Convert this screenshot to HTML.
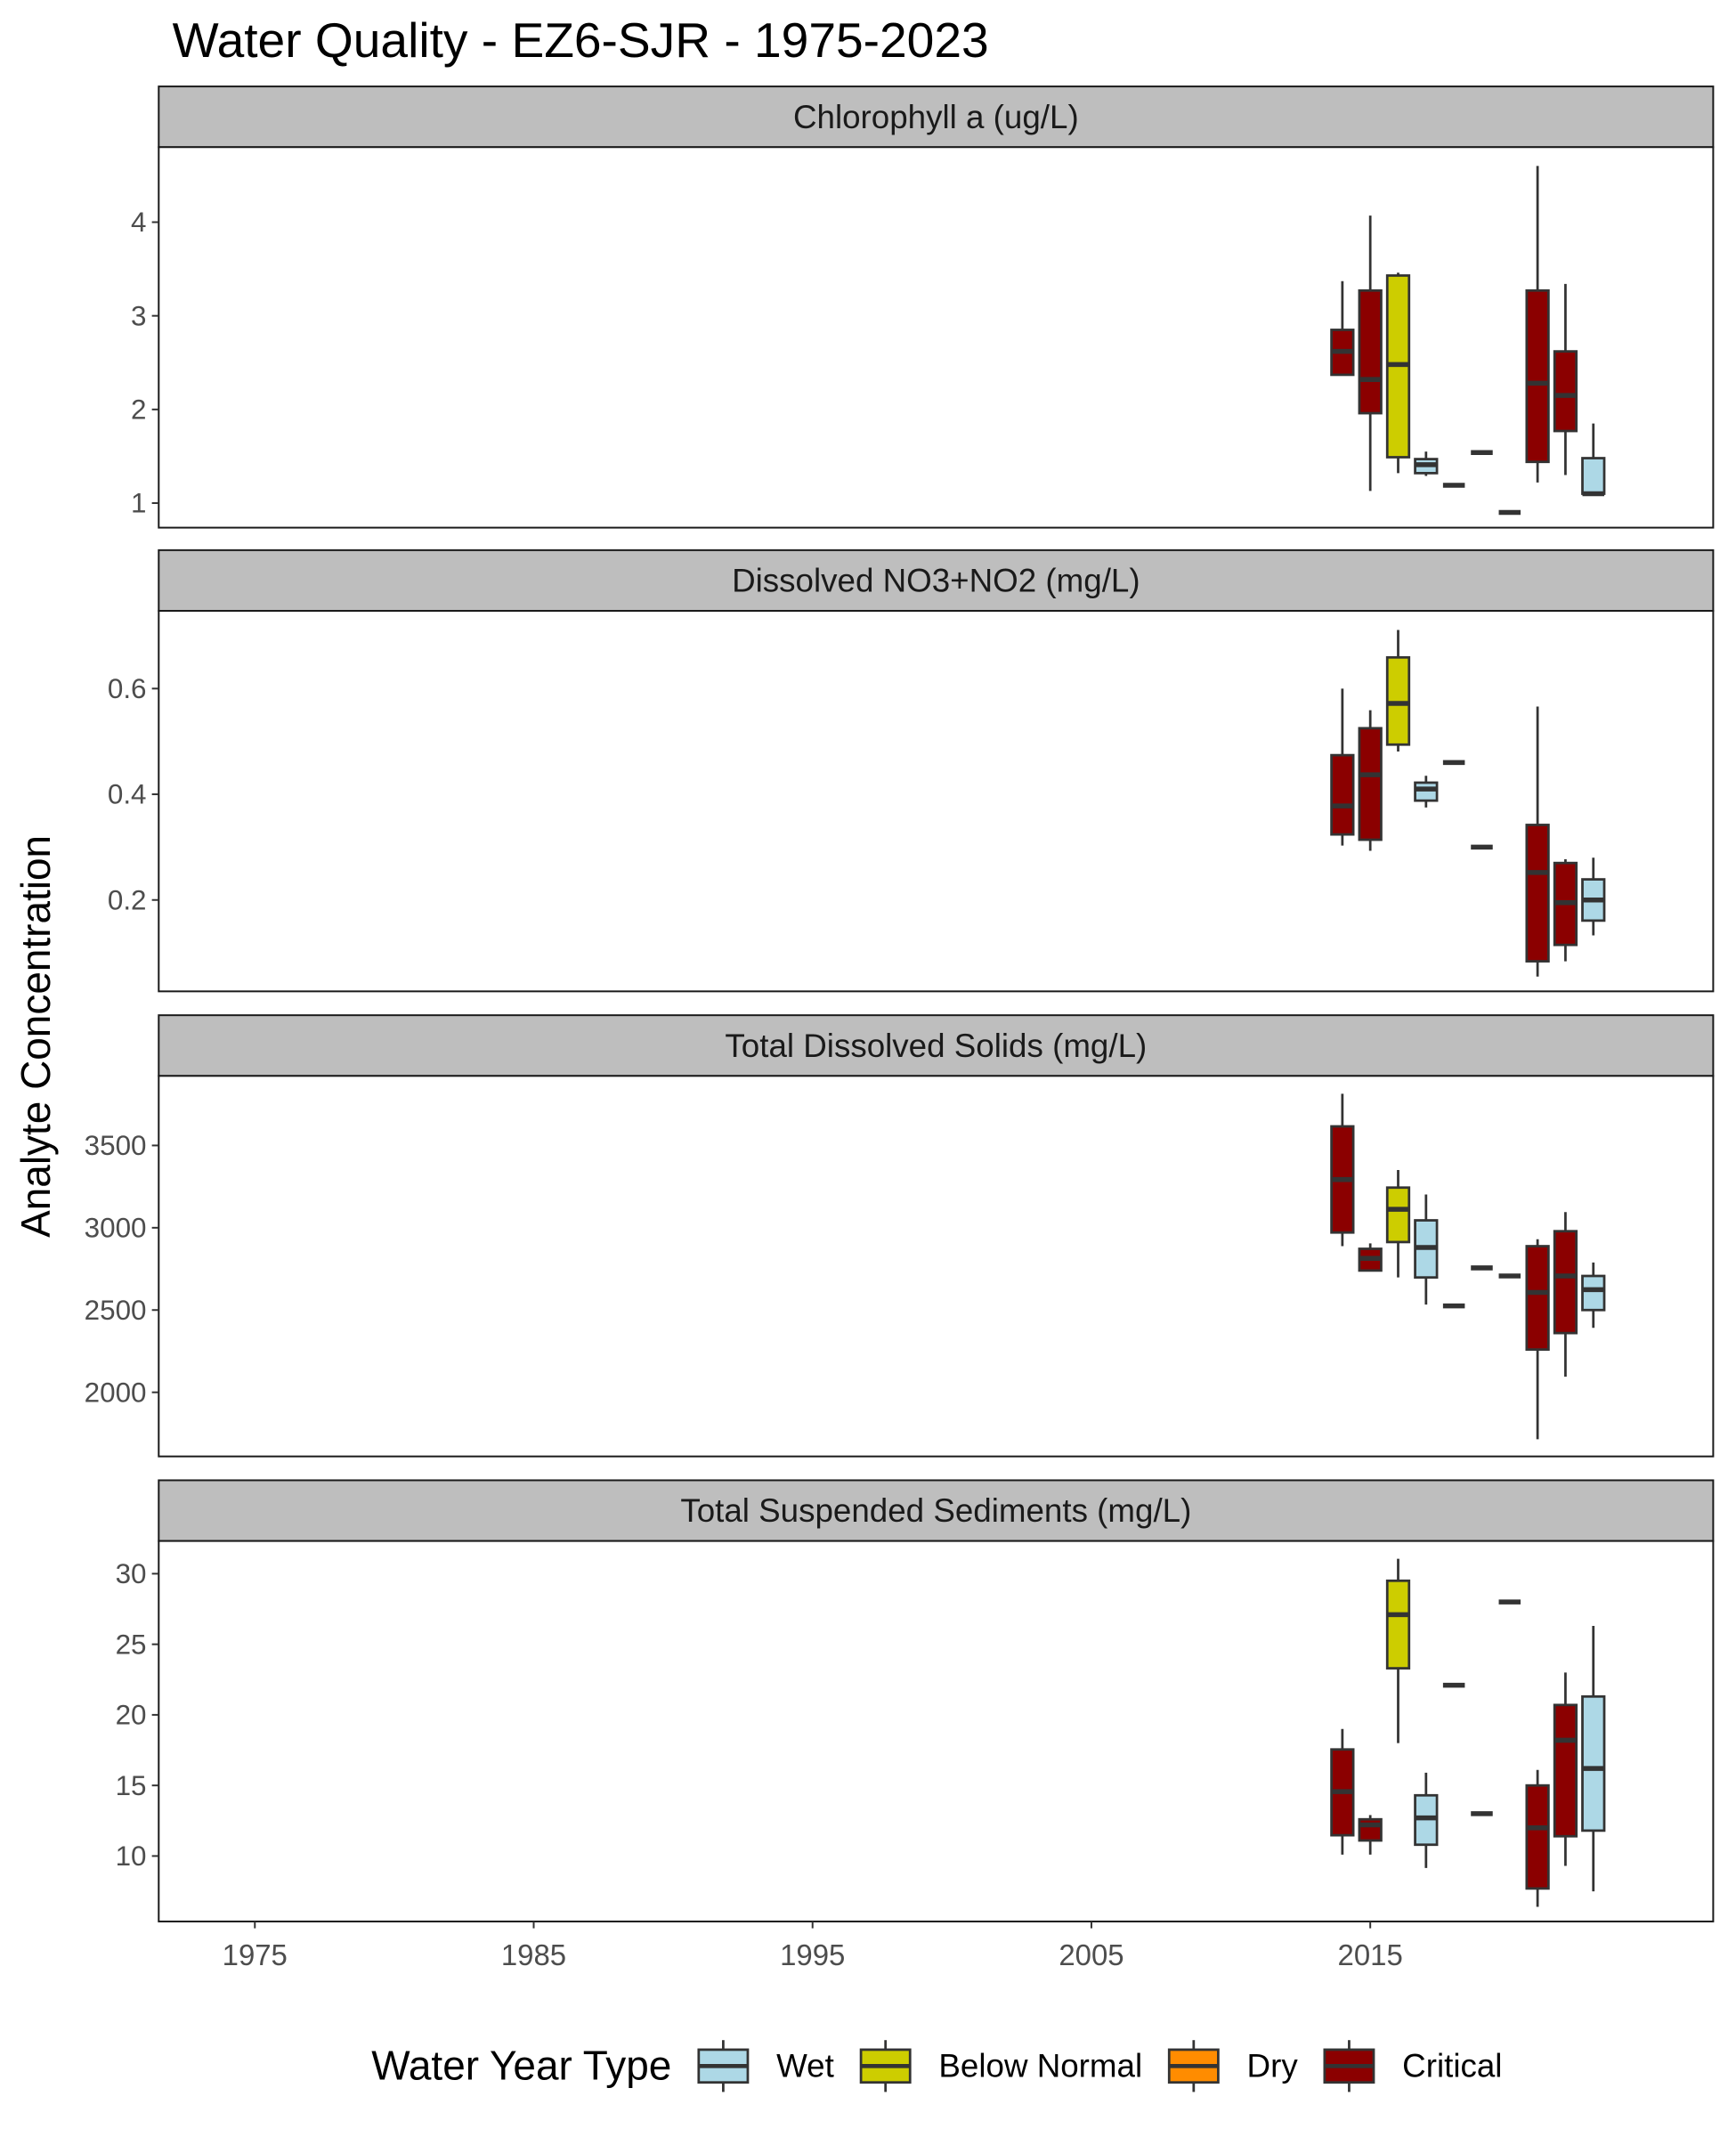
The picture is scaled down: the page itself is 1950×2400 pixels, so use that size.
<!DOCTYPE html>
<html><head><meta charset="utf-8"><style>
html,body{margin:0;padding:0;background:#fff;}
svg{display:block;font-family:"Liberation Sans",Arial,sans-serif;}
</style></head><body>
<svg width="1950" height="2400" viewBox="0 0 1280 1575" xmlns="http://www.w3.org/2000/svg"><g id="chart" transform="translate(-0.6,-0.3) scale(1.0054)"></g></svg>
<script>
const years = [2014,2015,2016,2017,2018,2019,2020,2021,2022,2023];
const yearTypes = ["Critical","Critical","Below Normal","Wet",null,null,null,"Critical","Critical","Wet"];
// [lo,q1,med,q3,hi]
const chlStats = [[2.37,2.37,2.62,2.85,3.37],[1.13,1.96,2.32,3.27,4.07],[1.32,1.49,2.48,3.43,3.46],[1.29,1.32,1.41,1.47,1.55],[1.19,1.19,1.19,1.19,1.19],[1.54,1.54,1.54,1.54,1.54],[0.9,0.9,0.9,0.9,0.9],[1.22,1.44,2.28,3.27,4.6],[1.3,1.77,2.15,2.62,3.34],[1.1,1.1,1.1,1.48,1.85]];
const no3Stats = [[0.303,0.324,0.378,0.474,0.6],[0.293,0.314,0.437,0.525,0.559],[0.481,0.494,0.572,0.659,0.711],[0.375,0.388,0.41,0.422,0.435],[0.46,0.46,0.46,0.46,0.46],[0.30,0.30,0.30,0.30,0.30],null,[0.055,0.084,0.252,0.342,0.566],[0.084,0.115,0.195,0.27,0.277],[0.133,0.161,0.2,0.239,0.28]];
const tdsStats = [[2888,2971,3293,3616,3814],[2740,2740,2814,2872,2905],[2698,2913,3112,3244,3351],[2533,2698,2880,3045,3202],[2525,2525,2525,2525,2525],[2756,2756,2756,2756,2756],[2707,2707,2707,2707,2707],[1715,2260,2607,2888,2930],[2095,2360,2707,2979,3095],[2392,2500,2624,2707,2789]];
const tssStats = [[10.1,11.47,14.56,17.55,19.0],[10.1,11.1,12.2,12.6,12.9],[18.0,23.3,27.1,29.5,31.06],[9.15,10.8,12.7,14.3,15.9],[22.1,22.1,22.1,22.1,22.1],[13.0,13.0,13.0,13.0,13.0],[28.0,28.0,28.0,28.0,28.0],[6.4,7.7,12.0,15.0,16.1],[9.3,11.4,18.2,20.7,23.0],[7.5,11.8,16.2,21.3,26.3]];
const chlTicks = [1,2,3,4];
const no3Ticks = [0.2,0.4,0.6];
const tdsTicks = [2000,2500,3000,3500];
const tssTicks = [10,15,20,25,30];
const xTicks = [1975,1985,1995,2005,2015];
const legendTypes = ["Wet","Below Normal","Dry","Critical"];

const colors = {"Wet":"#add8e6","Below Normal":"#cdcd00","Dry":"#ff8c00","Critical":"#8b0000"};
const NS="http://www.w3.org/2000/svg";
const svg=document.getElementById('chart');
function el(t,a,p){const e=document.createElementNS(NS,t);for(const k in a)e.setAttribute(k,a[k]);(p||svg).appendChild(e);return e;}
const X0=117,X1=1257;
function xs(yr){return 187.5+(yr-1975)*20.45;}

let t=el('text',{x:127,y:42,'font-size':36,fill:'#000'});t.textContent='Water Quality - EZ6-SJR - 1975-2023';


const panels=[
 {title:'Chlorophyll a (ug/L)',top:65,stats:chlStats,ticks:chlTicks,v0:1,p0:369,v1:4,p1:163,fmt:v=>String(v),name:'chlorophyll'},
 {title:'Dissolved NO3+NO2 (mg/L)',top:405,stats:no3Stats,ticks:no3Ticks,v0:0.2,p0:660,v1:0.6,p1:505,fmt:v=>v.toFixed(1),name:'nitrate'},
 {title:'Total Dissolved Solids (mg/L)',top:746,stats:tdsStats,ticks:tdsTicks,v0:2000,p0:1021,v1:3500,p1:840,fmt:v=>String(v),name:'tds'},
 {title:'Total Suspended Sediments (mg/L)',top:1087,stats:tssStats,ticks:tssTicks,v0:10,p0:1361,v1:30,p1:1154,fmt:v=>String(v),name:'tss'}
];
panels.forEach(P=>{
 const g=el('g',{});
 
 
 const ys=v=>P.p0+(v-P.v0)*(P.p1-P.p0)/(P.v1-P.v0);
 const s=el('rect',{x:X0,y:P.top-1.5,width:X1-X0,height:44.5,fill:'#bebebe',stroke:'#1a1a1a','stroke-width':1.3},g);
 
 const st=el('text',{x:(X0+X1)/2,y:P.top+29,'font-size':24,'text-anchor':'middle',fill:'#1a1a1a'},g);st.textContent=P.title;
 
 const pt=P.top+43, pb=pt+279;
 el('rect',{x:X0,y:pt,width:X1-X0,height:pb-pt,fill:'#fff',stroke:'#1a1a1a','stroke-width':1.3},g);
 P.ticks.forEach(v=>{const y=ys(v);
  el('line',{x1:X0-5,x2:X0,y1:y,y2:y,stroke:'#333','stroke-width':1.3},g);
  const tt=el('text',{x:X0-9,y:y+7,'font-size':20.5,'text-anchor':'end',fill:'#4d4d4d'},g);tt.textContent=P.fmt(v);
  
 });
 P.stats.forEach((d,i)=>{ if(!d)return;
  const cx=xs(years[i]),w=16,fill=colors[yearTypes[i]]||'#333';
  const b=el('g',{},g);
  
  el('line',{x1:cx,x2:cx,y1:ys(d[0]),y2:ys(d[4]),stroke:'#333','stroke-width':1.8},b);
  const h=Math.max(ys(d[1])-ys(d[3]),0);
  el('rect',{x:cx-w/2,y:ys(d[3]),width:w,height:h,fill:fill,stroke:'#333','stroke-width':1.8},b);
  el('line',{x1:cx-w/2,x2:cx+w/2,y1:ys(d[2]),y2:ys(d[2]),stroke:'#333','stroke-width':3.6},b);
 });
});
xTicks.forEach(yr=>{const x=xs(yr);
 el('line',{x1:x,x2:x,y1:1409,y2:1414,stroke:'#333','stroke-width':1.3});
 const tt=el('text',{x:x,y:1441,'font-size':21.5,'text-anchor':'middle',fill:'#4d4d4d'});tt.textContent=yr;
 
});
const yt=el('text',{x:0,y:0,'font-size':30,'text-anchor':'middle',fill:'#000',transform:'translate(37,760) rotate(-90)'});yt.textContent='Analyte Concentration';

const lt=el('text',{x:273,y:1525,'font-size':30,fill:'#000'});lt.textContent='Water Year Type';

const keyX=[513,632,858,972];
legendTypes.forEach((n,i)=>{
 const g=el('g',{});
 
 
 const x=keyX[i],cx=x+18;
 el('line',{x1:cx,x2:cx,y1:1496,y2:1534,stroke:'#333','stroke-width':1.8},g);
 el('rect',{x:x,y:1503,width:36,height:24,fill:colors[n],stroke:'#333','stroke-width':1.8},g);
 el('line',{x1:x,x2:x+36,y1:1515,y2:1515,stroke:'#333','stroke-width':3},g);
 const tx=el('text',{x:x+57,y:1523,'font-size':24,fill:'#000'},g);tx.textContent=n;
});
</script>
</body></html>
